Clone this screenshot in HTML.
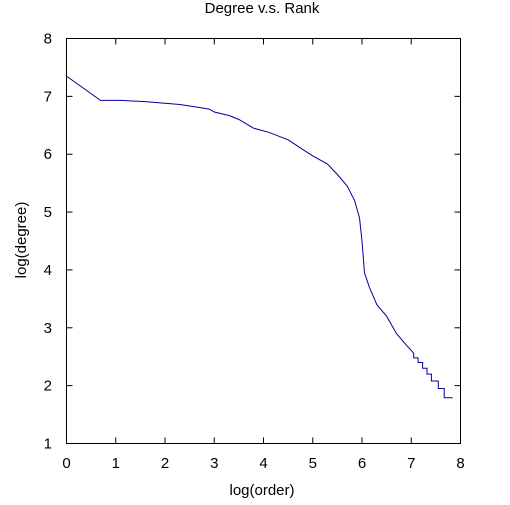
<!DOCTYPE html>
<html><head><meta charset="utf-8"><style>
body{margin:0;background:#fff;}
svg text{font-family:"Liberation Sans","DejaVu Sans",sans-serif;font-size:15px;fill:#000;}
</style></head><body>
<svg id="chart" width="510" height="500" xmlns="http://www.w3.org/2000/svg">
<text x="262" y="13" text-anchor="middle" font-size="14">Degree v.s. Rank</text>
<g id="axes"></g>
<path id="series" fill="none" stroke="#0000a0" stroke-width="1"/>
<rect x="66.5" y="38.5" width="394" height="405" fill="none" stroke="#000" stroke-width="1"/>
<text x="262" y="495" text-anchor="middle">log(order)</text>
<text transform="translate(26,240) rotate(-90)" text-anchor="middle">log(degree)</text>
</svg>
<script>
const xTicks=[0,1,2,3,4,5,6,7,8];
const yTicks=[1,2,3,4,5,6,7,8];
const logOrder=[0,0.69,1.1,1.6,2,2.3,2.6,2.9,3.0,3.3,3.5,3.8,4.1,4.5,4.8,5.0,5.3,5.5,5.7,5.85,5.95,6.0,6.05,6.15,6.3,6.5,6.7,6.9,7.05,7.05,7.14,7.14,7.23,7.23,7.32,7.32,7.41,7.41,7.55,7.55,7.67,7.67,7.84];
const logDegree=[7.35,6.93,6.93,6.91,6.88,6.86,6.82,6.78,6.73,6.67,6.60,6.45,6.38,6.25,6.08,5.97,5.83,5.65,5.45,5.2,4.9,4.5,3.95,3.7,3.4,3.2,2.9,2.7,2.56,2.48,2.48,2.40,2.40,2.30,2.30,2.20,2.20,2.08,2.08,1.95,1.95,1.79,1.79];
const X0=66.5,X1=460.5,Y0=443.5,Y1=38.5;
function sx(v){return X0+(v-0)/(8-0)*(X1-X0);}
function sy(v){return Y0-(v-1)/(8-1)*(Y0-Y1);}
const ns="http://www.w3.org/2000/svg";
const axes=document.getElementById('axes');
function mk(tag,attrs){const e=document.createElementNS(ns,tag);for(const k in attrs)e.setAttribute(k,attrs[k]);axes.appendChild(e);return e;}
xTicks.forEach(t=>{
  const x=sx(t);
  const a=mk('line',{x1:x,x2:x,y1:Y0,y2:Y0-6,stroke:'#000'});
  
  
  const b=mk('line',{x1:x,x2:x,y1:Y1,y2:Y1+6,stroke:'#000'});
  
  
  const l=mk('text',{x:x,y:468,'text-anchor':'middle'});l.textContent=t;
  
  
});
yTicks.forEach(t=>{
  const y=sy(t);
  const a=mk('line',{x1:X0,x2:X0+6,y1:y,y2:y,stroke:'#000'});
  
  
  const b=mk('line',{x1:X1,x2:X1-6,y1:y,y2:y,stroke:'#000'});
  
  
  const l=mk('text',{x:52,y:y+5,'text-anchor':'end'});l.textContent=t;
  
  
});
let d='';
logOrder.forEach((v,i)=>{d+=(i?'L':'M')+sx(v).toFixed(1)+','+sy(logDegree[i]).toFixed(1);});
document.getElementById('series').setAttribute('d',d);
</script>
</body></html>
